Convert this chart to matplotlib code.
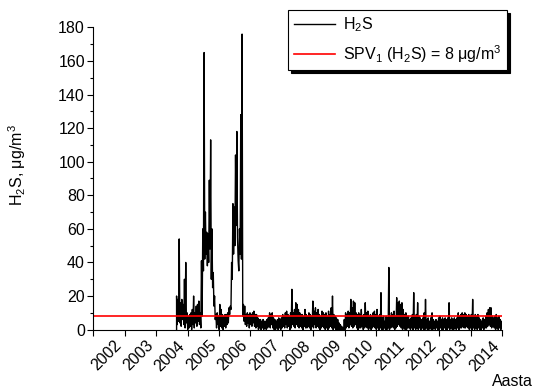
import matplotlib
matplotlib.use("Agg")
import matplotlib.pyplot as plt
import numpy as np

# H2S series: half-month steps starting ~2003.65
t_start = 2003.65
step = 1 / 24.0
h2s_high = [20, 18, 54, 16, 18, 15, 30, 40, 10, 8,
            9, 10, 12, 20, 10, 14, 15, 17, 10, 41,
            60, 165, 70, 58, 57, 89, 113, 60, 34, 20,
            9, 10, 8, 15, 12, 9, 8, 9, 9, 10,
            13, 14, 40, 75, 73, 104, 118, 41, 60, 128,
            176, 15, 14, 9, 10, 9, 10, 9, 10, 11,
            9, 9, 7, 6, 6, 5, 6, 5, 5, 6,
            7, 10, 9, 10, 7, 6, 5, 6, 7, 6,
            7, 9, 8, 10, 11, 9, 8, 10, 24, 10,
            12, 16, 15, 12, 10, 9, 9, 8, 12, 9,
            8, 10, 9, 8, 17, 11, 13, 10, 12, 9,
            8, 11, 10, 9, 10, 8, 11, 9, 13, 20,
            9, 8, 7, 6, 4, 3, 2, 1, 6, 10,
            9, 11, 10, 18, 13, 17, 16, 10, 9, 10,
            9, 12, 8, 9, 16, 10, 11, 8, 9, 8,
            10, 11, 9, 12, 8, 9, 22, 7, 8, 5,
            8, 7, 37, 8, 10, 9, 11, 8, 19, 16,
            17, 15, 16, 12, 9, 10, 8, 8, 6, 7,
            9, 22, 8, 9, 16, 8, 7, 6, 7, 10,
            18, 6, 7, 5, 7, 10, 6, 5, 6, 5,
            7, 8, 6, 7, 6, 7, 6, 7, 16, 6,
            7, 6, 7, 6, 7, 10, 8, 9, 10, 9,
            10, 9, 8, 9, 8, 9, 18, 8, 9, 8,
            9, 7, 6, 5, 7, 6, 8, 10, 12, 13,
            13, 8, 7, 8, 9, 7, 8, 6, 5]
h2s_low = [3, 5, 4, 2, 6, 3, 1, 4, 0, 1,
           2, 0, 3, 1, 4, 2, 5, 3, 1, 8,
           35, 42, 45, 38, 40, 48, 30, 25, 14, 6,
           1, 3, 0, 2, 1, 0, 2, 1, 3, 4,
           9, 12, 30, 45, 50, 62, 55, 35, 45, 42,
           8, 5, 3, 2, 4, 1, 3, 2, 4, 2,
           1, 2, 0, 1, 0, 1, 0, 1, 0, 1,
           2, 1, 3, 1, 0, 0, 1, 0, 1, 0,
           1, 2, 1, 3, 1, 2, 0, 1, 3, 2,
           1, 3, 2, 1, 2, 1, 0, 2, 1, 1,
           2, 1, 0, 2, 1, 3, 1, 2, 1, 0,
           1, 2, 1, 0, 1, 0, 1, 2, 1, 0,
           1, 0, 0, 0, 0, 0, 0, 0, 0, 1,
           2, 1, 3, 2, 1, 2, 3, 1, 0, 1,
           1, 2, 0, 1, 2, 1, 0, 1, 0, 1,
           2, 1, 0, 1, 0, 1, 0, 0, 1, 0,
           0, 1, 0, 1, 2, 1, 0, 1, 2, 3,
           2, 1, 0, 1, 0, 0, 1, 1, 0, 1,
           0, 1, 0, 1, 0, 1, 0, 1, 0, 0,
           1, 0, 0, 1, 0, 0, 1, 0, 1, 0,
           0, 1, 0, 0, 1, 0, 0, 1, 0, 1,
           0, 0, 1, 0, 1, 0, 1, 1, 2, 1,
           1, 2, 1, 0, 1, 0, 1, 0, 1, 0,
           1, 0, 0, 1, 0, 1, 1, 2, 3, 2,
           1, 2, 1, 0, 1, 0, 1, 0, 1]
spv_limit = 8
years = list(range(2001, 2015))
year_labels = [''] + [str(y) for y in years[1:]]

plt.rcParams.update({
    'font.family': ['Liberation Sans', 'DejaVu Sans'],
    'font.size': 11.5,
    'mathtext.fontset': 'custom',
    'mathtext.rm': 'Liberation Sans',
    'mathtext.it': 'Liberation Sans',
    'mathtext.default': 'regular',
})

# interleave peaks and lows so the dense line looks like the original
n = len(h2s_high)
t_high = t_start + np.arange(n) * step
t_low = t_high + step / 2
t = np.empty(2 * n)
v = np.empty(2 * n)
t[0::2] = t_high
t[1::2] = t_low
v[0::2] = h2s_high
v[1::2] = h2s_low
t = np.concatenate([[t_start], t])
v = np.concatenate([[0], v])

fig = plt.figure(figsize=(5.36, 3.91), dpi=100)
ax = fig.add_axes([0.174, 0.157, 0.7626, 0.773])

ax.plot(t, v, color='black', lw=1.0, label=r'H$_2$S')
ax.axhline(spv_limit, color='red', lw=1.2,
           label=r'SPV$_1$ (H$_2$S) = 8 μg/m$^3$')

ax.set_xlim(2001, 2014)
ax.set_ylim(0, 180)
ax.set_xticks(years)
ax.set_xticklabels(year_labels, rotation=45, ha='right', va='top')
ax.set_yticks(np.arange(0, 181, 20))
ax.set_yticks(np.arange(10, 180, 20), minor=True)
ax.tick_params(axis='both', direction='out', length=4, width=0.8,
               labelsize=11.5, pad=2)
ax.tick_params(axis='y', which='minor', direction='out', length=2, width=0.8)
for s in ['top', 'right']:
    ax.spines[s].set_visible(False)
for s in ['left', 'bottom']:
    ax.spines[s].set_linewidth(0.8)

ax.set_ylabel(r'H$_2$S, μg/m$^3$', fontsize=11.5)
ax.yaxis.set_label_coords(-0.16, 0.545)
fig.text(0.995, 0.024, 'Aasta', ha='right', va='center', fontsize=11.5)

leg = fig.legend(loc='upper right', bbox_to_anchor=(0.946, 0.975),
                 borderaxespad=0, fontsize=11.5, fancybox=False, frameon=True,
                 edgecolor='black', framealpha=1, handlelength=2.6,
                 handletextpad=0.5, labelspacing=0.55, borderpad=0.35,
                 shadow={'color': 'black', 'alpha': 1})
leg.get_frame().set_linewidth(0.8)

plt.savefig("out.png", dpi=100)
